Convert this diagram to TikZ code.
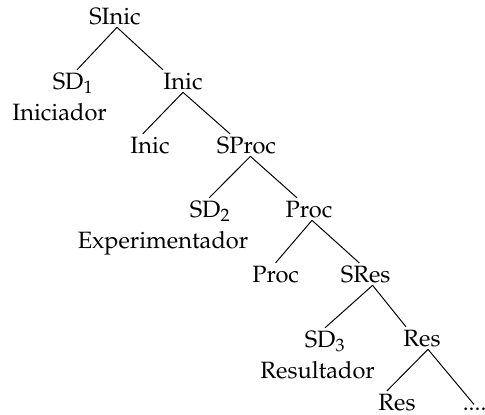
\documentclass[tikz,border=0pt]{standalone}
\usepackage[T1]{fontenc}
\usepackage{mathpazo}
\begin{document}
\begin{tikzpicture}[line width=0.7pt, font={\fontsize{16.8}{20}\selectfont},
		every node/.style={inner sep=1pt, outer sep=1pt, anchor=base}]
		\useasboundingbox (0,0) rectangle (12.125,-10.35);
		% nodos del arbol
		\node (SInic) at (2.875,-0.6) {SInic};
		\node (SDa) at (1.825,-2.225) {SD$_1$};
		\node (Iniciador) at (1.49,-3.0) {Iniciador};
		\node (Inic) at (4.575,-2.225) {Inic};
		\node (InicL) at (3.75,-3.825) {Inic};
		\node (SProc) at (6.16,-3.825) {SProc};
		\node (SDb) at (5.25,-5.425) {SD$_2$};
		\node (Experimentador) at (4.075,-6.2) {Experimentador};
		\node (Proc) at (7.725,-5.425) {Proc};
		\node (ProcL) at (6.89,-7.05) {Proc};
		\node (SRes) at (9.14,-7.05) {SRes};
		\node (SDc) at (8.125,-8.675) {SD$_3$};
		\node (Resultador) at (7.94,-9.45) {Resultador};
		\node (Res) at (10.55,-8.65) {Res};
		\node (ResL) at (9.925,-10.25) {Res};
		\node[anchor=base west] (dots) at (11.5,-10.25) {.....};
		% ramas
		\draw ([xshift=0.05cm]SInic.south) -- ([xshift=0.1cm]SDa.north);
		\draw ([xshift=0.05cm]SInic.south) -- ([xshift=-0.5cm]Inic.north);
		\draw (Inic.south) -- ([xshift=-0.18cm]InicL.north);
		\draw (Inic.south) -- ([xshift=-0.41cm]SProc.north);
		\draw ([xshift=0.1cm]SProc.south) -- ([xshift=-0.02cm]SDb.north);
		\draw ([xshift=0.1cm]SProc.south) -- ([xshift=-0.3cm]Proc.north);
		\draw ([xshift=0.075cm]Proc.south) -- (ProcL.north);
		\draw ([xshift=0.075cm]Proc.south) -- ([xshift=-0.16cm]SRes.north);
		\draw ([xshift=0.175cm]SRes.south) -- (SDc.north);
		\draw ([xshift=0.175cm]SRes.south) -- ([xshift=-0.4cm]Res.north);
		\draw ([xshift=0.15cm]Res.south) -- ([xshift=-0.25cm]ResL.north);
		\draw ([xshift=0.15cm]Res.south) -- ([xshift=0.35cm]dots.north west);
	\end{tikzpicture}
\end{document}
